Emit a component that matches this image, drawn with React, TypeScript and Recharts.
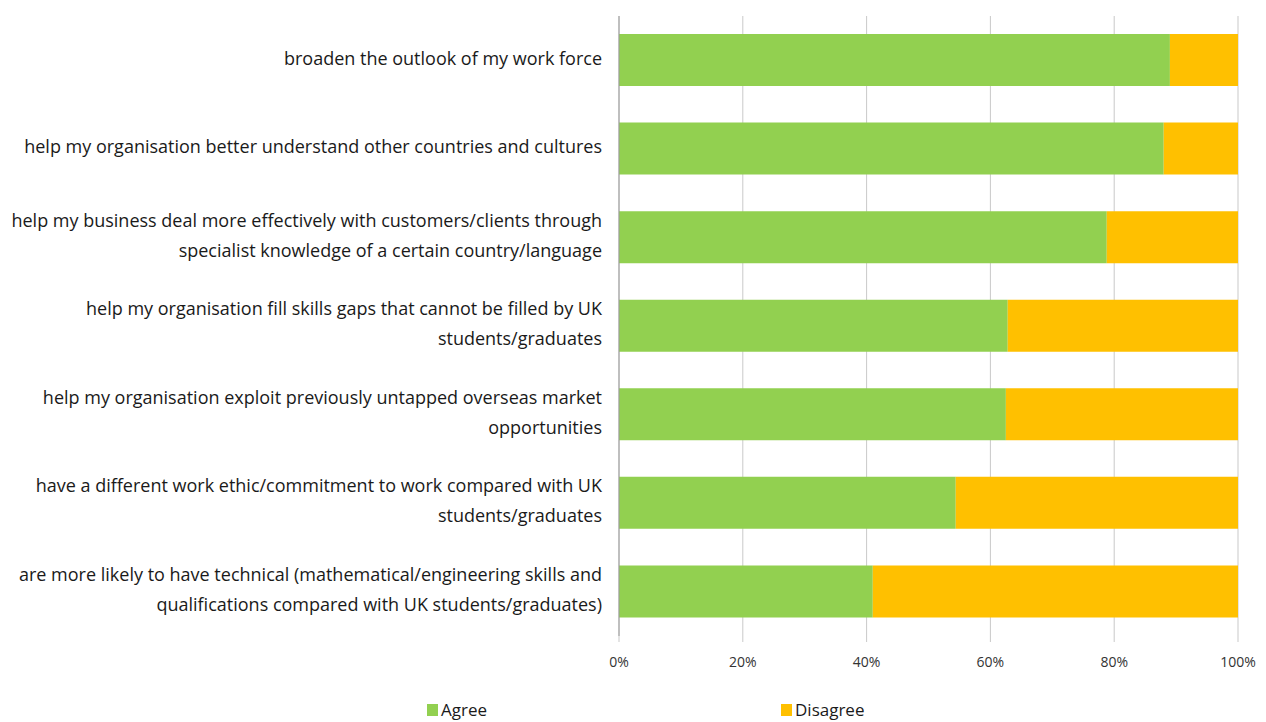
import React from "react";
import { BarChart, Bar, XAxis, YAxis, CartesianGrid, Legend } from "recharts";

const categories: string[] = [
  "broaden the outlook of my work force",
  "help my organisation better understand other countries and cultures",
  "help my business deal more effectively with customers/clients through\nspecialist knowledge of a certain country/language",
  "help my organisation fill skills gaps that cannot be filled by UK\nstudents/graduates",
  "help my organisation exploit previously untapped overseas market\nopportunities",
  "have a different work ethic/commitment to work compared with UK\nstudents/graduates",
  "are more likely to have technical (mathematical/engineering skills and\nqualifications compared with UK students/graduates)",
];
const agree: number[] = [89, 88, 78.8, 62.8, 62.5, 54.4, 41];
const disagree: number[] = [11, 12, 21.2, 37.2, 37.5, 45.6, 59];
const xTicks: number[] = [0, 20, 40, 60, 80, 100];

const data = categories.map((name, i) => ({ name, agree: agree[i], disagree: disagree[i] }));

const FONT = "'Open Sans', sans-serif";
const GREEN = "#92D050";
const ORANGE = "#FFC000";

const CategoryTick = (props: any) => {
  const { x, y, payload } = props;
  const lines: string[] = String(payload.value).split("\n");
  const lh = 30;
  const start = -((lines.length - 1) * lh) / 2 - 2;
  return (
    <g transform={`translate(${x - 9},${y})`}>
      {lines.map((l, i) => (
        <text
          key={i}
          x={0}
          y={start + i * lh}
          dy="0.35em"
          textAnchor="end"
          fontFamily={FONT}
          fontSize={18}
          fill="#1a1a1a"
        >
          {l}
        </text>
      ))}
    </g>
  );
};

const LegendContent = () => (
  <div style={{ position: "relative", width: 1266, height: 42, fontFamily: FONT, fontSize: 17, color: "#1a1a1a" }}>
    <div style={{ position: "absolute", left: 427, top: 18, display: "flex", alignItems: "center" }}>
      <span style={{ width: 11, height: 12, background: GREEN, display: "inline-block", marginRight: 3 }} />
      <span>Agree</span>
    </div>
    <div style={{ position: "absolute", left: 781, top: 18, display: "flex", alignItems: "center" }}>
      <span style={{ width: 11, height: 12, background: ORANGE, display: "inline-block", marginRight: 3 }} />
      <span>Disagree</span>
    </div>
  </div>
);

export default function App() {
  return (
    <div style={{ position: "absolute", left: 0, top: 0, background: "#fff" }}>
      <BarChart
        width={1266}
        height={722}
        data={data}
        layout="vertical"
        margin={{ top: 16, right: 28, bottom: 0, left: 0 }}
      >
        <CartesianGrid horizontal={false} stroke="#c9c9c9" />
        <XAxis
          type="number"
          domain={[0, 100]}
          ticks={xTicks}
          tickFormatter={(v: number) => `${v}%`}
          axisLine={false}
          tickLine={{ stroke: "#c9c9c9" }}
          tickSize={6}
          tickMargin={15}
          height={44}
          tick={{ fontFamily: FONT, fontSize: 14, fill: "#333" }}
          interval={0}
        />
        <YAxis
          type="category"
          dataKey="name"
          width={619}
          axisLine={{ stroke: "#9a9a9a" }}
          tickLine={false}
          tick={<CategoryTick />}
          interval={0}
        />
        <Legend verticalAlign="bottom" height={42} content={<LegendContent />} wrapperStyle={{ left: 0, bottom: 0 }} />
        <Bar dataKey="agree" stackId="a" fill={GREEN} barSize={52} isAnimationActive={false} />
        <Bar dataKey="disagree" stackId="a" fill={ORANGE} barSize={52} isAnimationActive={false} />
      </BarChart>
    </div>
  );
}
